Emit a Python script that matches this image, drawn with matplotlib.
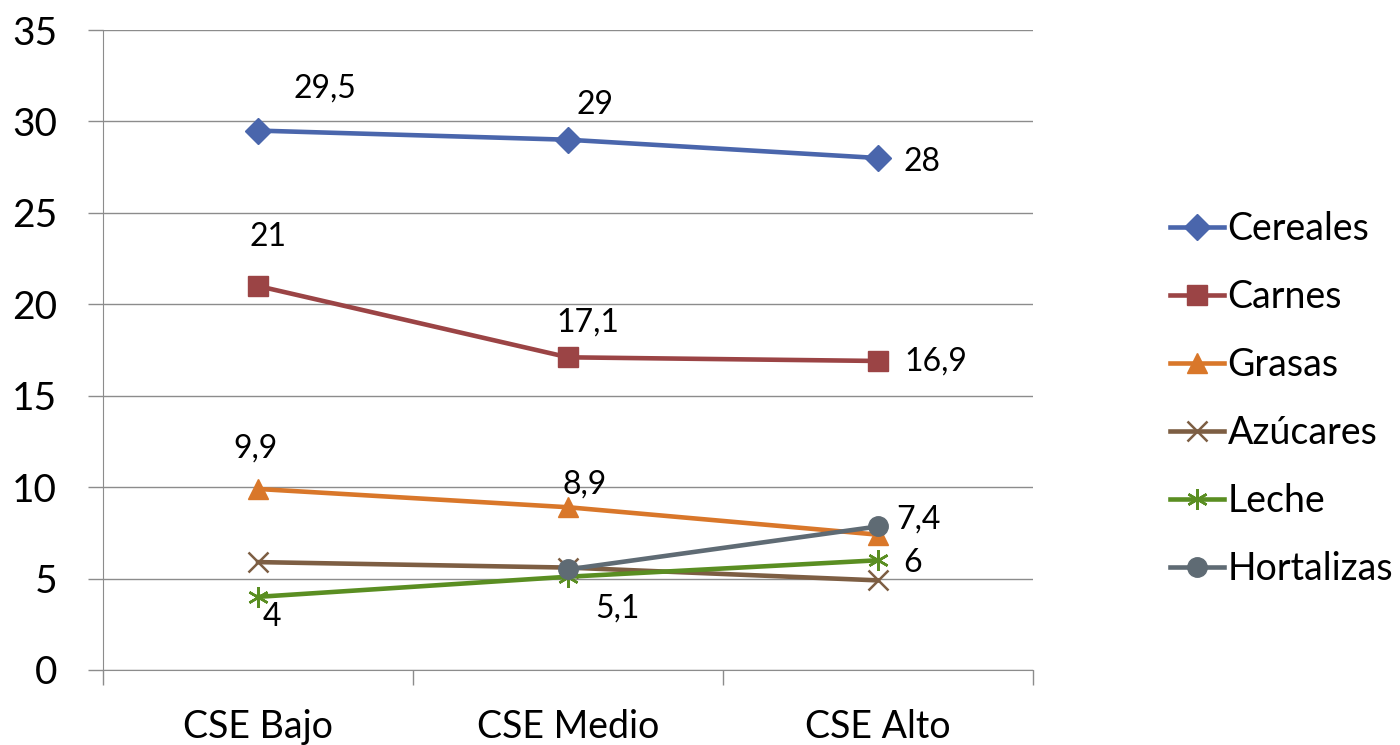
import numpy as np
import matplotlib.pyplot as plt

plt.rcParams['font.family'] = ['Lato', 'DejaVu Sans']

########## DATA ##########

categorias = ["CSE Bajo", "CSE Medio", "CSE Alto"]
cereales = [29.5, 29, 28]
carnes = [21, 17.1, 16.9]
grasas = [9.9, 8.9, 7.4]
azucares = [5.9, 5.6, 4.9]
leche = [4, 5.1, 6]
hortalizas = [np.nan, 5.5, 7.85]

series = [
    ("Cereales", cereales, "#4A66AC", "D", 13),
    ("Carnes", carnes, "#9B4445", "s", 14),
    ("Grasas", grasas, "#D9772A", "^", 15),
    ("Azúcares", azucares, "#7D5E43", "x", 14),
    ("Leche", leche, "#5A8E22", (6, 2, 0), 15),
    ("Hortalizas", hortalizas, "#5F6B74", "o", 14),
]

# label offsets in pixels (dx, dy) for labelled series
offsets = {
    "Cereales": [(67, 42), (27, 35), (44, -4)],
    "Carnes": [(10, 49), (20, 35), (58, -1)],
    "Grasas": [(-3, 40), (17, 23), (40, 15)],
    "Leche": [(14, -20), (49, -32), (35, -3)],
}

########## PLOT ##########

fig = plt.figure(figsize=(14, 7.45), dpi=100)
ax = fig.add_axes([0.0736, 0.1007, 0.6643, 0.859])
x = np.arange(len(categorias))

for name, vals, col, mk, ms in series:
    if name in ("Leche", "Azúcares"):
        ax.plot(x, vals, color=col, lw=3.3, label=name, zorder=3,
                marker=mk, ms=ms, mew=1.8, mec=col)
    else:
        ax.plot(x, vals, color=col, lw=3.3, label=name, zorder=3,
                marker=mk, ms=ms, mfc=col, mec=col)
    if name in offsets:
        for i, v in enumerate(vals):
            dx, dy = offsets[name][i]
            ax.annotate(f"{v:g}".replace(".", ","), (x[i], v),
                        xytext=(dx, dy), textcoords="offset pixels",
                        ha="center", va="center", fontsize=23)

ax.set_xlim(-0.5, 2.5)
ax.set_ylim(0, 35)
ax.set_yticks(np.arange(0, 36, 5))
ax.set_xticks(x)
ax.set_xticklabels(categorias)
ax.set_xticks([-0.5, 0.5, 1.5, 2.5], minor=True)
ax.tick_params(axis="x", which="major", length=0, labelsize=27, pad=28)
ax.tick_params(axis="x", which="minor", length=11, width=1, color="#8c8c8c")
ax.tick_params(axis="y", length=11, width=1, color="#8c8c8c", labelsize=28, pad=22)
ax.grid(axis="y", color="#8c8c8c", lw=1)
ax.set_axisbelow(True)
for s in ["top", "right"]:
    ax.spines[s].set_visible(False)
for s in ["left", "bottom"]:
    ax.spines[s].set_color("#8c8c8c")

ax.legend(loc="center left", bbox_to_anchor=(1.1473, 0.4234), frameon=False,
          fontsize=27, handlelength=1.45, handletextpad=0.08, labelspacing=0.85,
          borderpad=0, borderaxespad=0)

fig.savefig("out.png", dpi=100)
plt.close(fig)
